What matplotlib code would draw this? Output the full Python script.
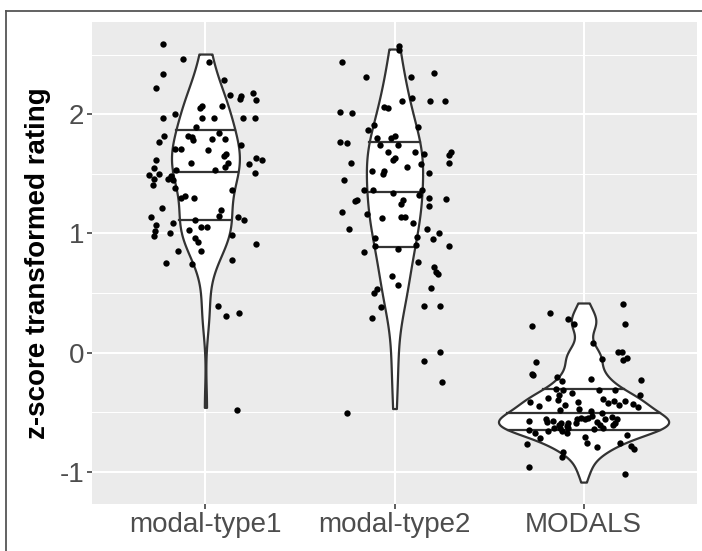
import numpy as np
import matplotlib
matplotlib.use("Agg")
import matplotlib.pyplot as plt
from matplotlib.lines import Line2D

categories = ["modal-type1", "modal-type2", "MODALS"]
y_ticks = [-1, 0, 1, 2]
y_minor = [-0.5, 0.5, 1.5, 2.5]
y_label = "z-score transformed rating"

# jittered points: horizontal jitter offset and rating, per group
g1_dx = [-0.226, -0.12, 0.018, -0.226, 0.10, -0.26, 0.13, 0.19, 0.185, 0.25, 0.27, 0.085, -0.02, -0.03,
         -0.16, -0.226, -0.02, 0.044, 0.20, 0.26, -0.05, -0.22, -0.09, -0.065, -0.07, 0.074, 0.034, 0.106,
         -0.243, 0.19, -0.16, -0.13, 0.016, 0.11, 0.10, 0.27, 0.30, -0.26, -0.074, 0.12, 0.23, -0.27, 0.106,
         -0.155, 0.048, 0.26, -0.30, -0.247, -0.27, -0.28, -0.2, -0.18, -0.17, -0.16, 0.138, -0.13, -0.11,
         -0.06, -0.23, 0.083, -0.286, 0.074, 0.17, 0.205, -0.053, -0.26, -0.17, -0.023, 0.01, -0.265, -0.27,
         -0.19, -0.088, 0.14, 0.27, -0.053, -0.039, -0.143, -0.026, 0.14, -0.21, -0.07, 0.065, 0.11, 0.18, 0.166]
g1_y = [2.59, 2.46, 2.44, 2.34, 2.29, 2.22, 2.16, 2.15, 2.13, 2.18, 2.12, 2.07, 2.07, 2.05,
        2.00, 1.97, 1.97, 1.97, 1.97, 1.97, 1.89, 1.82, 1.82, 1.78, 1.81, 1.84, 1.79, 1.79,
        1.77, 1.74, 1.71, 1.71, 1.70, 1.67, 1.65, 1.63, 1.62, 1.62, 1.59, 1.59, 1.58, 1.55, 1.56,
        1.53, 1.53, 1.51, 1.49, 1.50, 1.46, 1.41, 1.46, 1.48, 1.45, 1.38, 1.36, 1.30, 1.31,
        1.30, 1.21, 1.20, 1.14, 1.15, 1.14, 1.11, 1.11, 1.07, 1.09, 1.05, 1.05, 1.02, 0.98,
        1.00, 1.03, 0.99, 0.91, 0.96, 0.93, 0.85, 0.85, 0.78, 0.75, 0.74, 0.39, 0.31, 0.33, -0.48]

g2_dx = [0.023, 0.026, -0.28, 0.21, -0.153, 0.085, 0.093, 0.04, 0.187, 0.266, -0.056, -0.034, -0.287,
         -0.227, -0.106, -0.141, 0.123, -0.093, -0.019, 0.0, -0.078, 0.018, -0.287, -0.25, -0.035, 0.11,
         0.157, 0.30, 0.29, -0.01, 0.003, -0.23, 0.14, 0.29, 0.067, -0.12, -0.056, -0.063, 0.185, -0.265,
         -0.162, -0.115, -0.007, 0.13, 0.146, 0.185, 0.273, -0.21, -0.2, 0.046, 0.037, 0.183, -0.28, -0.146,
         0.037, 0.058, -0.065, 0.097, -0.243, 0.173, 0.236, 0.203, -0.102, 0.118, -0.102, 0.115, 0.018,
         -0.162, 0.287, 0.122, 0.21, 0.22, 0.229, -0.014, 0.018, 0.192, -0.095, -0.108, -0.072, -0.12,
         0.155, 0.24, 0.243, 0.155, 0.249, -0.25]
g2_y = [2.57, 2.54, 2.44, 2.35, 2.31, 2.31, 2.14, 2.11, 2.11, 2.11, 2.06, 2.05, 2.02,
        2.01, 1.91, 1.87, 1.89, 1.80, 1.80, 1.82, 1.74, 1.74, 1.77, 1.76, 1.68, 1.68,
        1.67, 1.68, 1.66, 1.62, 1.63, 1.59, 1.58, 1.59, 1.56, 1.52, 1.52, 1.50, 1.51, 1.45,
        1.36, 1.36, 1.34, 1.32, 1.36, 1.30, 1.29, 1.27, 1.28, 1.28, 1.25, 1.23, 1.18, 1.16,
        1.14, 1.14, 1.13, 1.09, 1.04, 1.04, 1.00, 0.955, 0.96, 0.966, 0.89, 0.90, 0.866,
        0.84, 0.897, 0.76, 0.72, 0.68, 0.66, 0.645, 0.57, 0.54, 0.536, 0.497, 0.38, 0.29,
        0.39, 0.39, 0.003, -0.073, -0.25, -0.51]

g3_dx = [0.207, -0.177, -0.082, -0.05, -0.274, 0.22, 0.048, 0.18, 0.204, 0.207, 0.228, 0.10, -0.249,
         -0.272, -0.268, -0.141, -0.115, 0.039, 0.302, -0.145, -0.108, 0.084, 0.166, -0.059, 0.299, -0.128,
         -0.19, -0.137, -0.03, 0.104, 0.131, 0.161, 0.19, 0.219, 0.263, 0.29, -0.283, -0.235, -0.1, -0.124,
         -0.026, 0.039, 0.096, 0.15, -0.286, -0.29, -0.2, -0.196, -0.16, -0.128, -0.119, -0.084, -0.112,
         -0.09, -0.19, -0.039, -0.015, 0.008, 0.026, 0.073, 0.089, 0.103, 0.056, 0.154, 0.168, 0.008, 0.02,
         0.073, 0.228, 0.193, 0.25, 0.268, -0.3, -0.256, -0.23, -0.111, -0.112, -0.29, 0.22,
         0.114, -0.036, 0.043, 0.175, -0.08, -0.157, -0.124, -0.089]
g3_y = [0.41, 0.335, 0.285, 0.24, 0.22, 0.243, 0.081, 0.008, 0.003, -0.059, -0.047, -0.053, -0.078,
        -0.176, -0.19, -0.207, -0.235, -0.226, -0.232, -0.304, -0.318, -0.318, -0.318, -0.341, -0.357, -0.36,
        -0.38, -0.394, -0.413, -0.388, -0.425, -0.41, -0.44, -0.41, -0.43, -0.46, -0.413, -0.45, -0.444, -0.478,
        -0.472, -0.49, -0.51, -0.54, -0.575, -0.654, -0.556, -0.58, -0.575, -0.61, -0.59, -0.634, -0.66,
        -0.676, -0.66, -0.59, -0.55, -0.561, -0.55, -0.584, -0.609, -0.63, -0.645, -0.609, -0.595, -0.707, -0.757,
        -0.793, -0.693, -0.763, -0.78, -0.807, -0.768, -0.679, -0.72, -0.835, -0.874, -0.958, -1.02,
        -0.561, -0.561, -0.533, -0.561, -0.59, -0.63, -0.63, -0.617]

# range of the underlying (un-jittered) ratings, which trims each violin
data_min = [-0.46, -0.47, -1.087]
data_max = [2.505, 2.547, 0.416]

groups_dx = [g1_dx, g2_dx, g3_dx]
groups_y = [g1_y, g2_y, g3_y]


def bw_nrd0(x):
    x = np.asarray(x, float)
    sd = np.std(x, ddof=1)
    q75, q25 = np.percentile(x, [75, 25])
    lo = min(sd, (q75 - q25) / 1.34)
    if lo <= 0:
        lo = sd if sd > 0 else 1.0
    return 0.9 * lo * len(x) ** (-0.2)


def kde(x, grid, bw):
    x = np.asarray(x, float)
    z = (grid[:, None] - x[None, :]) / bw
    return np.exp(-0.5 * z ** 2).sum(1) / (len(x) * bw * np.sqrt(2 * np.pi))


plt.rcParams['font.family'] = ['Liberation Sans', 'DejaVu Sans']

fig = plt.figure(figsize=(7.02, 5.51), dpi=100)
W, H = 702, 551
ax = fig.add_axes([92 / W, 1 - 504 / H, 605 / W, 482 / H])

# frame around the plot (cropped on right and bottom)
fig.add_artist(Line2D([6 / W, 1.01], [1 - 11 / H, 1 - 11 / H], transform=fig.transFigure,
                      color='#555555', lw=1.3))
fig.add_artist(Line2D([6 / W, 6 / W], [1 - 11 / H, -0.01], transform=fig.transFigure,
                      color='#555555', lw=1.3))

ax.set_facecolor('#EBEBEB')
for s in ax.spines.values():
    s.set_visible(False)

# densities
grids, dens = [], []
for i, y in enumerate(groups_y):
    g = np.linspace(data_min[i], data_max[i], 512)
    d = kde(y, g, bw_nrd0(y))
    grids.append(g)
    dens.append(d)
maxd = max(d.max() for d in dens)

edge = '#333333'
for i in range(3):
    g, d = grids[i], dens[i]
    half = 0.45 * d / maxd
    ax.fill_betweenx(g, i - half, i + half, facecolor='white', edgecolor=edge, lw=1.6, zorder=2)
    cdf = np.cumsum(d)
    cdf = cdf / cdf[-1]
    qs = np.interp([0.25, 0.5, 0.75], cdf, g)
    for q in qs:
        w = np.interp(q, g, half)
        ax.plot([i - w, i + w], [q, q], color=edge, lw=1.6, zorder=2.5)
    ax.scatter(i + np.asarray(groups_dx[i]), groups_y[i], s=21, color='black', linewidths=0, zorder=3)

# limits with ggplot-like expansion
all_lo = min(min(data_min), min(min(y) for y in groups_y))
all_hi = max(max(data_max), max(max(y) for y in groups_y))
rng = all_hi - all_lo
ax.set_ylim(all_lo - 0.05 * rng, all_hi + 0.05 * rng)
ax.set_xlim(-0.6, 2.6)

ax.set_xticks(range(3))
ax.set_xticklabels(categories)
ax.set_yticks(y_ticks)
ax.set_yticklabels([str(t) for t in y_ticks])
ax.set_yticks(y_minor, minor=True)
ax.grid(True, which='major', color='white', lw=1.5, zorder=0)
ax.grid(True, which='minor', axis='y', color='white', lw=0.75, zorder=0)
ax.set_axisbelow(True)
ax.tick_params(which='major', length=3.5, width=1.1, color='#333333', labelcolor='#4D4D4D',
               labelsize=20, pad=2)
ax.tick_params(which='minor', length=0)

ax.set_ylabel(y_label, fontsize=20, fontweight='bold', color='black')
ax.yaxis.set_label_coords(-0.068, 0.5)

fig.savefig('out.png', dpi=100)
